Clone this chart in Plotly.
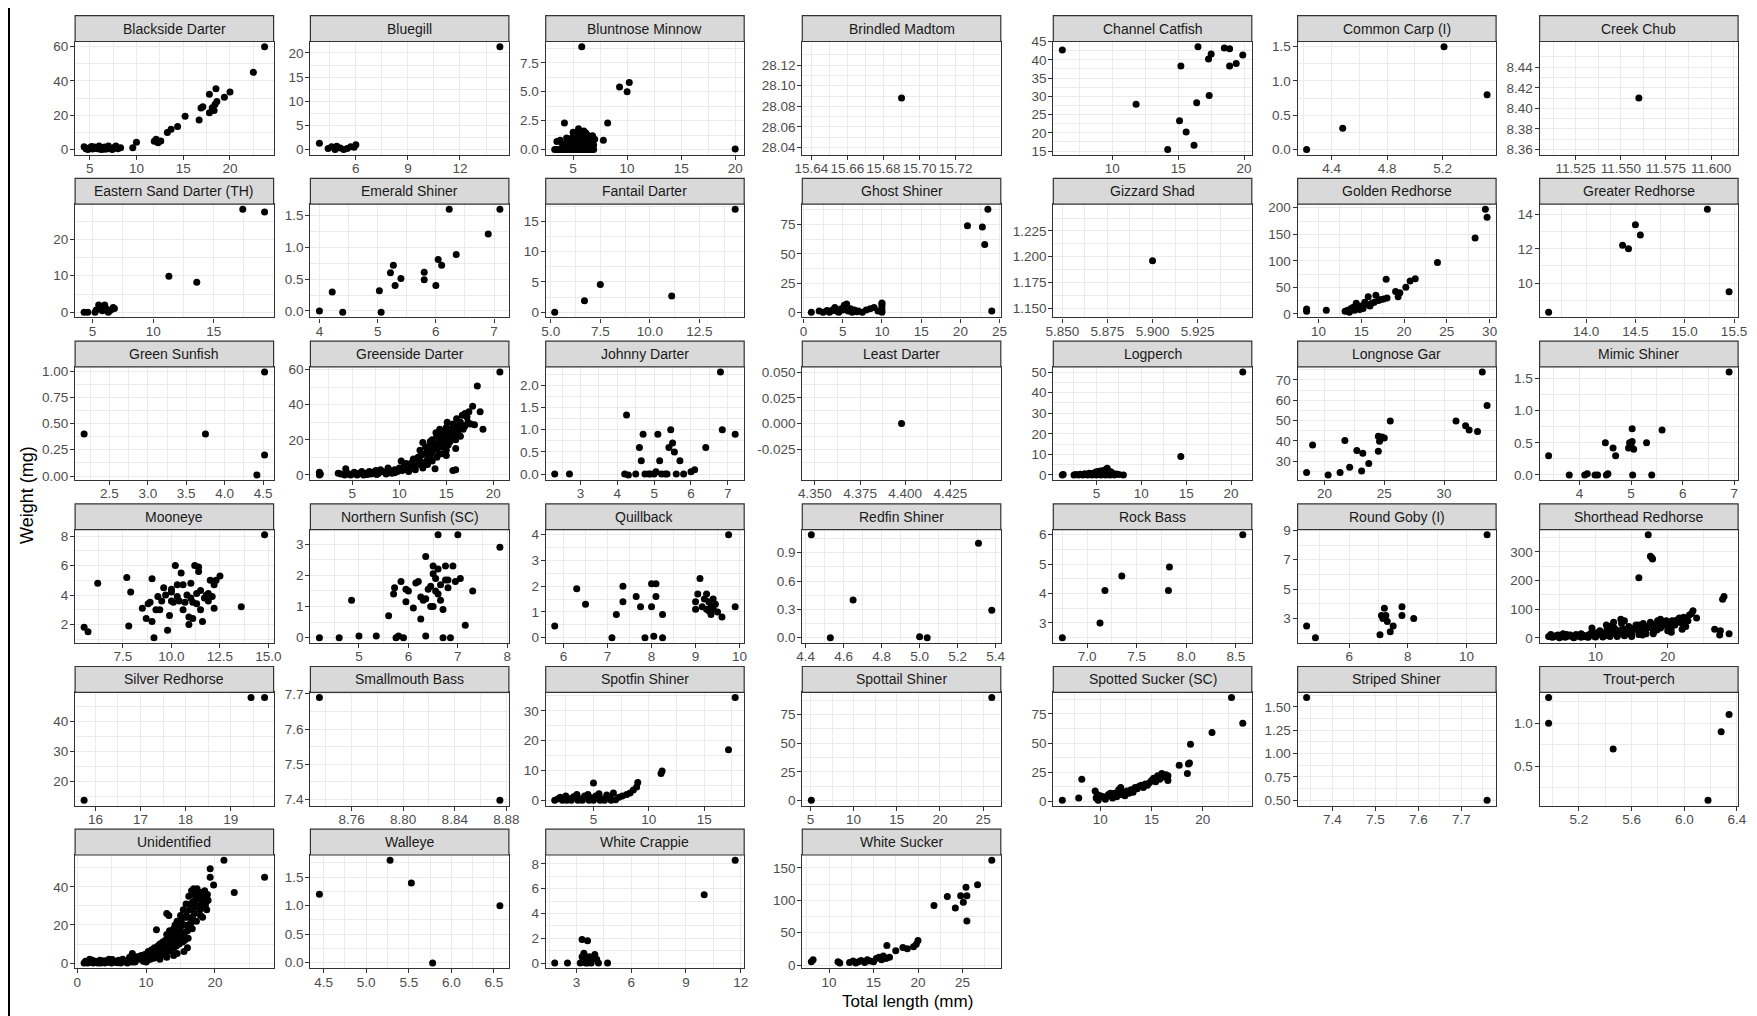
import plotly.graph_objects as go

# ---------------- data: (total length mm, weight mg) per species ----------------
blackside_darter = [(4.4,1.7),(4.6,0.5),(4.8,0.0),(5.0,1.0),(5.3,0.3),(5.5,1.5),(5.8,0.5),(6.0,2.0),(6.2,0.0),(6.4,1.0),(6.6,1.5),(6.8,0.3),(7.0,2.0),(7.2,0.8),(7.4,0.0),(7.6,1.2),(7.8,2.0),(8.0,0.5),(6.5,0.2),(5.2,1.8),(8.3,1.0),
                    (9.6,1.0),(10.0,4.2),(11.9,4.8),(12.1,6.0),(12.3,4.0),(12.6,5.0),(13.3,10.0),(13.7,11.8),(14.4,13.5),(15.2,19.4),(16.7,17.3),(16.9,24.2),(17.1,25.0),(17.8,21.5),(17.8,32.2),(18.1,24.4),(18.4,26.3),(18.5,35.4),(18.6,28.0),(18.3,22.7),(19.4,30.5),(20.0,33.5),(22.5,45.0),(23.7,60.0)]
bluegill = [(3.9,1.3),(4.4,0.2),(4.6,0.6),(4.8,0.0),(4.9,0.7),(5.1,0.3),(5.3,0.0),(5.5,0.2),(5.7,0.6),(5.9,0.5),(6.0,1.0),(14.3,21.3)]
bluntnose_minnow = [(3.3,0.0),(3.5,0.0),(3.7,0.0),(3.9,0.0),(4.1,0.0),(4.3,0.0),(4.5,0.0),(4.7,0.0),(4.9,0.0),(5.1,0.0),(5.3,0.0),(5.5,0.0),(5.7,0.0),(5.9,0.0),(6.1,0.0),(6.3,0.0),(6.5,0.0),(6.7,0.0),(6.9,0.0),
                    (3.5,0.7),(3.8,0.8),(4.0,0.5),(4.2,2.3),(4.3,0.3),(4.5,0.6),(4.6,0.9),(4.8,0.4),(4.9,1.0),(5.0,0.7),(5.1,1.2),(5.2,0.5),(5.3,1.4),(5.4,0.9),(5.5,1.8),(5.5,0.3),(5.6,1.1),(5.7,1.5),(5.8,0.6),(5.8,1.3),(5.9,0.9),(6.0,1.6),(6.0,0.4),(6.1,1.0),(6.2,1.4),(6.3,0.7),(6.4,1.2),(6.5,0.5),(6.6,1.0),(6.7,0.8),(6.8,1.2),(6.9,0.4),(7.0,0.9),(5.2,0.2),(4.7,0.2),(6.2,0.2),(5.0,1.5),(5.6,0.6),(4.4,1.0),(6.8,0.2),
                    (7.8,0.8),(8.2,2.3),(5.8,8.9),(9.3,5.4),(10.0,5.0),(10.2,5.8),(20.0,0.05)]
brindled_madtom = [(15.69,28.088)]
channel_catfish = [(6.2,42.7),(11.8,27.8),(14.2,15.4),(15.1,23.3),(15.2,38.3),(15.6,20.2),(16.2,16.6),(16.4,28.2),(16.5,43.6),(17.3,40.2),(17.35,30.2),(17.5,41.6),(18.5,43.2),(18.9,43.0),(18.9,38.3),(19.4,39.0),(19.9,41.3)]
common_carp = [(4.22,0.0),(4.48,0.31),(5.21,1.5),(5.52,0.8)]
creek_chub = [(11.56,8.41)]
eastern_sand_darter = [(4.3,0.0),(4.6,0.0),(5.2,0.0),(5.3,0.6),(5.5,2.0),(5.6,1.0),(5.8,0.4),(6.0,2.0),(6.1,1.0),(6.3,0.0),(6.5,0.6),(6.7,1.3),(6.8,1.0),(11.3,9.9),(13.6,8.2),(17.4,28.2),(19.2,27.5)]
emerald_shiner = [(4.0,0.0),(4.22,0.3),(4.4,-0.02),(5.03,0.32),(5.06,-0.02),(5.22,0.6),(5.27,0.72),(5.3,0.4),(5.4,0.51),(5.8,0.61),(5.8,0.49),(6.0,0.4),(6.04,0.81),(6.1,0.72),(6.23,1.6),(6.35,0.89),(6.9,1.21),(7.1,1.6)]
fantail_darter = [(5.2,0.0),(6.7,1.9),(7.5,4.6),(11.1,2.7),(14.3,17.0)]
ghost_shiner = [(1.0,0.0),(2.0,1.0),(2.5,0.0),(3.0,1.5),(3.3,0.0),(3.7,2.0),(4.0,4.0),(4.2,1.0),(4.5,0.0),(4.8,3.0),(5.0,2.0),(5.2,6.0),(5.5,7.0),(5.7,1.0),(6.0,3.0),(6.2,0.0),(6.5,2.0),(7.0,1.0),(7.5,0.0),(8.0,2.0),(8.5,3.0),(9.0,4.0),(10.0,2.0),(10.0,5.0),(10.0,7.0),(10.0,8.0),(10.0,0.0),(9.5,1.0),(3.5,1.0),(6.8,0.5),
                (20.9,74.0),(22.8,73.0),(23.1,58.0),(23.5,88.0),(24.0,1.0)]
gizzard_shad = [(5.90,1.196)]
golden_redhorse = [(8.6,5.0),(8.6,9.0),(10.9,7.0),(13.1,5.0),(13.4,7.0),(13.6,3.0),(13.8,10.0),(14.0,12.0),(14.2,7.0),(14.4,20.0),(14.6,13.0),(14.8,8.0),(15.0,15.0),(15.2,10.0),(15.4,22.0),(15.6,18.0),(15.8,32.0),(16.0,15.0),(16.2,20.0),(16.5,22.0),(16.7,35.0),(17.0,25.0),(17.3,27.0),(17.6,28.0),(17.9,65.0),(18.0,30.0),(19.0,42.0),(19.3,32.0),(19.5,40.0),(20.2,50.0),(20.7,62.0),(21.3,66.0),(23.9,97.0),(28.3,143.0),(29.5,197.0),(29.7,182.0)]
greater_redhorse = [(13.62,8.3),(14.37,12.2),(14.43,12.0),(14.5,13.4),(14.55,12.8),(15.23,14.3),(15.45,9.5)]
green_sunfish = [(2.17,0.4),(3.75,0.4),(4.42,0.01),(4.52,0.2),(4.52,0.99)]
greenside_darter = [(1.5,0.0),(1.5,1.5),(1.6,0.5),(3.5,1.0),(3.8,0.5),(4.2,0.0),(4.3,3.5),(4.5,1.0),(4.8,0.0),(5.0,0.5),(5.2,1.5),(5.5,0.0),(5.8,1.0),(6.0,2.0),(6.2,0.0),(6.5,1.0),(6.8,2.0),(7.0,0.5),(7.2,1.5),(7.5,2.5),(7.8,1.0),(8.0,3.0),(8.2,2.0),(8.5,1.5),(8.8,4.0),(9.0,2.5),(9.2,1.0),(9.5,3.0),(9.8,2.0),(10.0,4.0),(10.2,8.0),(10.3,2.5),(10.5,5.0),(10.8,3.0),(11.0,6.0),(11.0,4.0),(11.3,7.0),(11.5,5.0),(11.7,3.0),(11.8,9.0),(12.0,6.0),(12.2,8.0),(12.3,11.0),(12.5,18.5),(12.6,7.0),(12.8,12.0),(13.0,9.0),(13.0,14.0),(13.2,16.0),(13.3,11.0),(13.5,13.0),(13.5,20.0),(13.7,17.0),(13.8,3.5),(14.0,15.0),(14.0,22.0),(14.2,12.0),(14.2,19.0),(14.4,23.0),(14.5,16.0),(14.6,21.0),(14.8,18.0),(14.8,25.0),(15.0,14.0),(15.0,20.0),(15.0,27.0),(15.2,17.0),(15.3,23.0),(15.4,19.0),(15.5,26.0),(15.6,21.0),(15.7,2.5),(15.8,25.0),(16.0,3.0),(16.0,20.0),(16.0,28.0),(16.2,24.0),(16.3,27.0),(16.5,22.0),(16.5,30.0),(16.8,26.0),(17.0,35.0),(17.2,33.0),(17.3,30.0),(17.6,29.0),(17.8,39.0),(18.0,28.5),(18.3,50.5),(18.6,36.0),(18.9,26.0),(20.7,58.5),(12.0,10.0),(11.0,2.0),(12.5,4.0),(13.0,6.0),(14.0,10.0),(15.0,11.0),(16.0,15.0),
                    (12.2,14.0),(12.8,16.0),(13.3,19.0),(13.6,15.0),(13.9,24.0),(14.1,18.0),(14.3,26.0),(14.6,19.0),(14.9,22.0),(15.1,30.0),(15.3,26.0),(15.5,22.0),(15.7,29.0),(15.9,23.0),(16.1,32.0),(16.4,26.0),(16.7,34.0),(17.0,28.0),(17.4,36.0),(12.8,6.0),(13.5,8.0),(14.5,12.0),(11.5,9.0),(10.7,6.5),(9.5,1.2),(8.6,0.5),(7.6,0.3),(6.6,0.2),(5.6,0.5)]
johnny_darter = [(2.3,0.0),(2.7,0.0),(4.2,0.0),(4.25,1.33),(4.3,-0.02),(4.5,0.0),(4.6,0.6),(4.65,0.3),(4.7,0.9),(4.75,0.0),(4.85,0.0),(4.9,0.0),(5.0,0.0),(5.05,0.05),(5.1,0.9),(5.15,0.3),(5.2,0.0),(5.3,0.0),(5.35,0.0),(5.4,0.6),(5.45,1.0),(5.5,0.7),(5.55,0.5),(5.6,0.0),(5.7,0.3),(5.8,0.0),(6.0,0.05),(6.1,0.1),(6.4,0.6),(6.8,2.3),(6.85,1.0),(7.2,0.9)]
least_darter = [(4.398,0.0)]
logperch = [(1.2,0.0),(1.3,0.2),(2.5,0.0),(2.7,0.2),(3.0,0.0),(3.2,0.4),(3.5,0.0),(3.7,0.6),(4.0,0.0),(4.2,0.8),(4.5,0.0),(4.7,1.0),(5.0,0.0),(5.0,1.5),(5.3,1.8),(5.5,0.0),(5.6,2.0),(5.8,1.0),(6.0,0.0),(6.0,2.5),(6.2,3.2),(6.3,2.0),(6.5,0.0),(6.6,1.5),(6.8,0.8),(7.0,0.0),(7.2,0.5),(7.5,0.2),(8.0,0.0),(4.5,0.5),(5.5,1.2),(14.4,9.0),(21.3,50.0)]
longnose_gar = [(18.5,24.4),(19.0,37.9),(20.3,23.2),(21.3,24.4),(21.7,40.2),(22.1,27.0),(22.7,35.3),(23.2,33.9),(23.1,25.1),(23.7,28.8),(24.5,34.9),(24.5,42.3),(24.6,39.8),(24.8,41.9),(25.0,41.4),(25.5,49.8),(31.0,49.8),(31.8,47.5),(32.1,45.3),(32.8,44.6),(33.2,73.9),(33.6,57.4)]
mimic_shiner = [(3.4,0.3),(3.8,0.0),(4.1,0.0),(4.15,0.02),(4.3,0.0),(4.35,0.0),(4.5,0.5),(4.52,0.0),(4.55,0.02),(4.65,0.42),(4.7,0.3),(4.95,0.42),(4.97,0.5),(5.0,0.45),(5.02,0.52),(5.02,0.72),(5.03,0.0),(5.05,0.4),(5.3,0.5),(5.4,0.0),(5.6,0.7),(6.9,1.6)]
mooneye = [(5.5,1.8),(5.7,1.5),(6.2,4.8),(7.7,5.2),(7.8,1.9),(7.9,4.2),(8.5,3.1),(8.7,2.4),(8.8,3.4),(8.9,3.5),(9.0,5.1),(9.0,2.2),(9.1,1.1),(9.2,3.0),(9.3,3.9),(9.4,3.0),(9.5,3.6),(9.7,4.0),(9.8,1.6),(9.9,2.6),(10.0,4.4),(10.0,4.2),(10.1,3.5),(10.2,6.0),(10.3,4.7),(10.4,3.6),(10.5,5.5),(10.6,4.7),(10.7,3.5),(10.8,4.0),(10.9,2.5),(10.9,2.0),(11.0,3.8),(11.0,4.8),(11.1,3.5),(11.1,2.4),(11.2,6.0),(11.3,4.1),(11.3,3.4),(11.4,5.6),(11.4,5.9),(11.5,3.0),(11.5,4.3),(11.6,2.2),(11.7,3.8),(11.8,4.0),(11.9,4.1),(12.0,5.0),(12.1,3.9),(12.2,4.7),(12.2,3.1),(12.3,5.0),(12.5,5.3),(13.6,3.2),(14.8,8.1),(10.3,3.9),(10.6,3.0),(11.9,3.6),(10.0,3.6),(9.6,4.5)]
northern_sunfish = [(4.2,0.0),(4.6,0.0),(4.85,1.2),(5.0,0.05),(5.35,0.05),(5.6,0.7),(5.7,1.4),(5.72,1.6),(5.75,0.0),(5.8,0.05),(5.85,1.8),(5.9,0.0),(5.95,1.15),(5.95,1.55),(6.0,1.5),(6.1,0.95),(6.15,1.75),(6.2,1.8),(6.25,0.6),(6.25,1.3),(6.3,1.2),(6.35,0.05),(6.35,2.6),(6.35,1.25),(6.4,1.55),(6.45,1.0),(6.5,2.05),(6.5,2.3),(6.55,1.5),(6.55,1.9),(6.6,3.3),(6.6,1.4),(6.6,2.2),(6.65,1.2),(6.65,1.7),(6.7,0.0),(6.7,0.9),(6.75,2.3),(6.75,1.85),(6.8,1.85),(6.8,1.6),(6.85,0.0),(6.9,2.3),(6.95,1.8),(7.0,3.3),(7.05,1.9),(7.15,0.4),(7.3,1.5),(7.85,2.9),(6.45,1.65),(6.5,1.0)]
quillback = [(5.8,0.45),(6.3,1.9),(6.5,1.3),(7.1,0.0),(7.2,0.9),(7.35,2.0),(7.35,1.4),(7.65,1.6),(7.75,1.2),(7.85,0.0),(8.0,1.2),(8.0,2.1),(8.05,0.05),(8.1,2.1),(8.1,1.6),(8.25,0.0),(8.25,0.9),(9.0,1.4),(9.0,1.1),(9.05,1.7),(9.1,2.3),(9.15,1.2),(9.2,1.5),(9.25,1.7),(9.3,1.4),(9.3,1.05),(9.35,0.9),(9.4,1.5),(9.4,1.1),(9.45,1.3),(9.5,1.0),(9.6,0.8),(9.75,4.0),(9.9,1.2),(9.35,1.2),(9.25,1.1)]
redfin_shiner = [(4.43,1.09),(4.53,0.0),(4.65,0.4),(5.0,0.01),(5.04,0.0),(5.31,1.0),(5.38,0.29)]
rock_bass = [(6.75,2.5),(7.13,3.0),(7.18,4.1),(7.35,4.6),(7.82,4.1),(7.83,4.9),(8.57,6.0)]
round_goby = [(4.55,2.5),(4.85,1.7),(7.05,1.9),(7.1,3.2),(7.15,3.0),(7.2,3.7),(7.25,3.2),(7.3,2.8),(7.5,2.5),(7.4,2.1),(7.8,3.8),(7.8,3.2),(8.2,3.0),(10.7,8.7)]
shorthead_redhorse = [(3.5,5),(3.8,12),(4.0,2),(4.5,8),(5.0,3),(5.5,15),(6.0,5),(6.5,10),(7.0,2),(7.5,8),(8.0,15),(8.5,5),(9.0,10),(9.5,20),(10.0,8),(10.3,15),(10.6,25),(11.0,10),(11.3,18),(11.6,30),(12.0,12),(12.3,22),(12.6,35),(13.0,15),(13.3,25),(13.6,50),(14.0,20),(14.3,30),(14.6,40),(15.0,22),(15.3,32),(15.6,45),(16.0,25),(16.3,35),(16.6,50),(17.0,30),(17.3,40),(17.6,55),(18.0,32),(18.3,45),(18.6,60),(19.0,35),(19.3,48),(19.6,55),(20.0,40),(20.3,50),(20.6,60),(21.0,45),(21.3,55),(21.6,70),(22.0,50),(22.5,65),(23.0,80),(23.5,95),(24.0,70),(20.5,20),(15.0,5),(13.0,5),(11.0,3),(9.0,2),(7.0,1),(5.0,1),(12.0,40),(14.0,60),(16.0,45),(18.0,20),(19.0,65),(17.0,15),(15.0,12),(13.0,8),(16.5,10),(6.0,12),(8.0,2),(10.0,3),(12.0,5),(14.0,8),(16.0,12),(18.0,15),(20.0,25),(22.0,30),
                      (4.2,4),(4.8,10),(5.3,6),(5.8,2),(6.3,8),(6.8,4),(7.3,12),(7.8,5),(8.3,9),(8.8,3),(9.3,14),(9.8,6),(10.2,18),(10.8,12),(11.2,7),(11.8,20),(12.2,15),(12.8,28),(13.2,18),(13.8,30),(14.2,25),(14.8,35),(15.2,28),(15.8,38),(16.2,30),(16.8,42),(17.2,35),(17.8,48),(18.2,38),(18.8,52),(19.2,42),(19.8,60),(20.2,45),(20.8,55),(21.2,62),(21.8,58),(22.2,72),(22.8,60),(23.3,85),(11.5,45),(13.5,65),(12.5,55),(9.5,35),(14.5,15),(16.5,20),(18.5,28),(20.5,35),(22.5,40),
                      (17.3,360),(17.6,285),(17.8,280),(17.9,275),(16.0,210),(26.5,30),(27.2,10),(27.3,25),(27.6,135),(27.8,145),(28.5,15)]
silver_redhorse = [(15.75,13.8),(19.45,48.0),(19.75,48.0)]
smallmouth_bass = [(8.735,7.69),(8.875,7.397)]
spotfin_shiner = [(1.5,0.0),(1.8,0.5),(2.0,1.0),(2.2,0.0),(2.5,1.5),(2.8,0.5),(3.0,0.0),(3.2,1.2),(3.5,2.0),(3.8,0.5),(4.0,0.0),(4.2,1.5),(4.5,2.0),(4.8,0.8),(5.0,5.8),(5.0,0.0),(5.2,1.5),(5.5,2.2),(5.8,0.5),(6.0,0.0),(6.2,1.8),(6.5,1.0),(6.8,2.5),(7.0,0.2),(7.3,1.0),(7.6,1.5),(8.0,2.0),(8.3,2.5),(8.6,3.5),(8.9,4.5),(9.0,6.0),(2.6,0.0),(3.6,0.0),(4.6,0.0),(5.6,0.0),(6.6,0.0),(11.1,9.0),(11.2,9.8),(17.2,17.0),(17.8,34.5)]
spottail_shiner = [(5.1,0.05),(26.0,90.0)]
spotted_sucker = [(6.3,1),(7.9,3),(8.2,19),(9.5,9),(9.6,3),(9.7,6),(10.0,5),(10.3,4),(10.5,2),(10.8,6),(11.0,5),(11.2,3),(11.4,7),(11.6,4),(11.8,10),(12.0,6),(12.2,8),(12.4,5),(12.6,9),(12.8,7),(13.0,10),(13.2,8),(13.4,12),(13.6,11),(13.8,13),(14.0,14),(14.2,12),(14.4,15),(14.6,14),(14.8,16),(15.0,18),(15.2,20),(15.4,17),(15.6,22),(15.8,19),(16.0,24),(16.2,21),(16.4,23),(16.6,18),(16.6,22),(17.7,31),(18.5,24),(18.6,32),(18.7,33),(18.8,49),(20.9,59),(22.8,89),(23.9,67),(12.0,12),(11.0,7),(9.8,1)]
striped_shiner = [(7.34,1.6),(7.76,0.5)]
trout_perch = [(4.97,1.3),(4.97,1.0),(5.46,0.7),(6.18,0.1),(6.28,0.9),(6.34,1.1)]
unidentified = [(1.0,0.0),(1.2,1.0),(1.5,0.0),(1.8,2.0),(2.0,0.5),(2.3,0.0),(2.6,1.0),(3.0,0.0),(3.3,1.5),(3.6,0.5),(4.0,0.0),(4.3,1.0),(4.6,2.0),(5.0,0.0),(5.3,1.0),(5.6,0.5),(6.0,1.5),(6.3,0.0),(6.6,2.0),(7.0,1.0),(7.3,0.0),(7.6,3.0),(8.0,5.0),(8.3,1.5),(8.6,3.0),(9.0,2.0),(9.3,4.0),(9.6,1.0),(10.0,3.0),(10.3,6.0),(10.6,2.0),(11.0,5.0),(11.2,8.0),(11.5,17.5),(11.5,3.0),(11.8,6.0),(12.0,10.0),(12.2,4.0),(12.5,8.0),(12.8,12.0),(13.0,26.0),(13.0,15.0),(13.2,6.0),(13.3,25.0),(13.5,10.0),(13.8,14.0),(14.0,18.0),(14.0,8.0),(14.3,12.0),(14.5,22.0),(14.6,16.0),(14.8,10.0),(15.0,25.0),(15.0,19.0),(15.2,14.0),(15.4,28.0),(15.5,20.0),(15.6,12.0),(15.8,31.0),(16.0,24.0),(16.0,17.0),(16.2,35.0),(16.3,28.0),(16.5,21.0),(16.6,38.0),(16.8,32.0),(17.0,26.0),(17.0,36.0),(17.2,30.0),(17.4,39.0),(17.6,34.0),(17.8,28.0),(18.0,37.0),(18.0,31.0),(18.2,24.0),(18.4,35.0),(18.6,30.0),(18.8,28.0),(19.3,49.5),(19.3,45.0),(19.8,41.0),(21.3,54.0),(22.8,37.0),(27.2,45.0),(19.0,33.0),(14.0,4.0),(12.0,2.0),(16.0,8.0),(10.0,0.5),(8.0,0.5),
                (1.4,0.5),(2.2,1.5),(2.8,0.3),(3.4,0.0),(3.9,1.2),(4.5,0.4),(5.1,1.8),(5.8,0.2),(6.4,1.2),(7.1,0.4),(7.8,1.8),(8.4,0.6),(8.9,3.5),(9.4,2.5),(9.8,4.5),(10.2,1.5),(10.5,4.0),(10.8,7.0),(11.1,2.5),(11.4,6.0),(11.7,9.0),(12.1,7.0),(12.4,11.0),(12.7,5.0),(12.9,9.0),(13.1,13.0),(13.4,17.0),(13.6,7.0),(13.9,11.0),(14.1,15.0),(14.2,20.0),(14.4,9.0),(14.7,13.0),(14.9,17.0),(15.1,22.0),(15.3,11.0),(15.6,16.0),(15.7,24.0),(15.9,27.0),(16.1,13.0),(16.1,20.0),(16.4,31.0),(16.7,24.0),(16.7,18.0),(16.9,29.0),(17.1,33.0),(17.3,22.0),(17.5,36.0),(17.7,30.0),(17.9,25.0),(18.1,34.0),(18.3,29.0),(18.5,38.0),(18.7,32.0),(18.9,36.0),(16.9,39.0),(17.8,37.0),(15.5,6.0),(14.5,5.0),(13.0,3.0)]
walleye = [(4.45,1.2),(5.28,1.8),(5.53,1.4),(5.78,-0.01),(6.57,1.0)]
white_crappie = [(1.8,0.0),(2.5,0.0),(3.2,0.0),(3.3,1.9),(3.4,0.8),(3.5,0.3),(3.6,1.8),(3.7,0.5),(3.3,0.5),(3.5,0.0),(3.8,0.0),(4.0,0.7),(4.1,0.3),(4.2,0.0),(4.7,0.0),(3.9,0.4),(3.6,0.0),(10.0,5.5),(11.7,8.3)]
white_sucker = [(8.0,5),(8.2,8),(11.0,5),(11.2,3),(12.3,4),(12.7,6),(13.0,3),(13.3,5),(13.6,7),(14.0,4),(14.3,8),(14.6,6),(15.0,5),(15.3,10),(15.6,12),(15.9,8),(16.1,14),(16.4,10),(16.5,30),(16.8,12),(17.5,22),(18.3,27),(18.8,25),(19.5,28),(19.8,32),(20.0,38),(21.8,92),(23.3,106),(24.2,88),(24.8,107),(25.1,97),(25.4,120),(25.5,107),(25.5,68),(26.7,124),(28.3,162)]

# ---------------- tick labels per panel ----------------
blackside_darter_xt = ["5","10","15","20"];            blackside_darter_yt = ["0","20","40","60"]
bluegill_xt = ["6","9","12"];                           bluegill_yt = ["0","5","10","15","20"]
bluntnose_minnow_xt = ["5","10","15","20"];            bluntnose_minnow_yt = ["0.0","2.5","5.0","7.5"]
brindled_madtom_xt = ["15.64","15.66","15.68","15.70","15.72"]; brindled_madtom_yt = ["28.04","28.06","28.08","28.10","28.12"]
channel_catfish_xt = ["10","15","20"];                 channel_catfish_yt = ["15","20","25","30","35","40","45"]
common_carp_xt = ["4.4","4.8","5.2"];                  common_carp_yt = ["0.0","0.5","1.0","1.5"]
creek_chub_xt = ["11.525","11.550","11.575","11.600"]; creek_chub_yt = ["8.36","8.38","8.40","8.42","8.44"]
eastern_sand_darter_xt = ["5","10","15"];              eastern_sand_darter_yt = ["0","10","20"]
emerald_shiner_xt = ["4","5","6","7"];                 emerald_shiner_yt = ["0.0","0.5","1.0","1.5"]
fantail_darter_xt = ["5.0","7.5","10.0","12.5"];       fantail_darter_yt = ["0","5","10","15"]
ghost_shiner_xt = ["0","5","10","15","20","25"];       ghost_shiner_yt = ["0","25","50","75"]
gizzard_shad_xt = ["5.850","5.875","5.900","5.925"];   gizzard_shad_yt = ["1.150","1.175","1.200","1.225"]
golden_redhorse_xt = ["10","15","20","25","30"];       golden_redhorse_yt = ["0","50","100","150","200"]
greater_redhorse_xt = ["14.0","14.5","15.0","15.5"];   greater_redhorse_yt = ["10","12","14"]
green_sunfish_xt = ["2.5","3.0","3.5","4.0","4.5"];    green_sunfish_yt = ["0.00","0.25","0.50","0.75","1.00"]
greenside_darter_xt = ["5","10","15","20"];            greenside_darter_yt = ["0","20","40","60"]
johnny_darter_xt = ["3","4","5","6","7"];              johnny_darter_yt = ["0.0","0.5","1.0","1.5","2.0"]
least_darter_xt = ["4.350","4.375","4.400","4.425"];   least_darter_yt = ["-0.025","0.000","0.025","0.050"]
logperch_xt = ["5","10","15","20"];                    logperch_yt = ["0","10","20","30","40","50"]
longnose_gar_xt = ["20","25","30"];                    longnose_gar_yt = ["30","40","50","60","70"]
mimic_shiner_xt = ["4","5","6","7"];                   mimic_shiner_yt = ["0.0","0.5","1.0","1.5"]
mooneye_xt = ["7.5","10.0","12.5","15.0"];             mooneye_yt = ["2","4","6","8"]
northern_sunfish_xt = ["5","6","7","8"];               northern_sunfish_yt = ["0","1","2","3"]
quillback_xt = ["6","7","8","9","10"];                 quillback_yt = ["0","1","2","3","4"]
redfin_shiner_xt = ["4.4","4.6","4.8","5.0","5.2","5.4"]; redfin_shiner_yt = ["0.0","0.3","0.6","0.9"]
rock_bass_xt = ["7.0","7.5","8.0","8.5"];              rock_bass_yt = ["3","4","5","6"]
round_goby_xt = ["6","8","10"];                        round_goby_yt = ["3","5","7","9"]
shorthead_redhorse_xt = ["10","20"];                   shorthead_redhorse_yt = ["0","100","200","300"]
silver_redhorse_xt = ["16","17","18","19"];            silver_redhorse_yt = ["20","30","40"]
smallmouth_bass_xt = ["8.76","8.80","8.84","8.88"];    smallmouth_bass_yt = ["7.4","7.5","7.6","7.7"]
spotfin_shiner_xt = ["5","10","15"];                   spotfin_shiner_yt = ["0","10","20","30"]
spottail_shiner_xt = ["5","10","15","20","25"];        spottail_shiner_yt = ["0","25","50","75"]
spotted_sucker_xt = ["10","15","20"];                  spotted_sucker_yt = ["0","25","50","75"]
striped_shiner_xt = ["7.4","7.5","7.6","7.7"];         striped_shiner_yt = ["0.50","0.75","1.00","1.25","1.50"]
trout_perch_xt = ["5.2","5.6","6.0","6.4"];            trout_perch_yt = ["0.5","1.0"]
unidentified_xt = ["0","10","20"];                     unidentified_yt = ["0","20","40"]
walleye_xt = ["4.5","5.0","5.5","6.0","6.5"];          walleye_yt = ["0.0","0.5","1.0","1.5"]
white_crappie_xt = ["3","6","9","12"];                 white_crappie_yt = ["0","2","4","6","8"]
white_sucker_xt = ["10","15","20","25"];               white_sucker_yt = ["0","50","100","150"]

species_names = ["Blackside Darter","Bluegill","Bluntnose Minnow","Brindled Madtom","Channel Catfish","Common Carp (I)","Creek Chub",
                 "Eastern Sand Darter (TH)","Emerald Shiner","Fantail Darter","Ghost Shiner","Gizzard Shad","Golden Redhorse","Greater Redhorse",
                 "Green Sunfish","Greenside Darter","Johnny Darter","Least Darter","Logperch","Longnose Gar","Mimic Shiner",
                 "Mooneye","Northern Sunfish (SC)","Quillback","Redfin Shiner","Rock Bass","Round Goby (I)","Shorthead Redhorse",
                 "Silver Redhorse","Smallmouth Bass","Spotfin Shiner","Spottail Shiner","Spotted Sucker (SC)","Striped Shiner","Trout-perch",
                 "Unidentified","Walleye","White Crappie","White Sucker"]

panels = [
    (blackside_darter, blackside_darter_xt, blackside_darter_yt),
    (bluegill, bluegill_xt, bluegill_yt),
    (bluntnose_minnow, bluntnose_minnow_xt, bluntnose_minnow_yt),
    (brindled_madtom, brindled_madtom_xt, brindled_madtom_yt),
    (channel_catfish, channel_catfish_xt, channel_catfish_yt),
    (common_carp, common_carp_xt, common_carp_yt),
    (creek_chub, creek_chub_xt, creek_chub_yt),
    (eastern_sand_darter, eastern_sand_darter_xt, eastern_sand_darter_yt),
    (emerald_shiner, emerald_shiner_xt, emerald_shiner_yt),
    (fantail_darter, fantail_darter_xt, fantail_darter_yt),
    (ghost_shiner, ghost_shiner_xt, ghost_shiner_yt),
    (gizzard_shad, gizzard_shad_xt, gizzard_shad_yt),
    (golden_redhorse, golden_redhorse_xt, golden_redhorse_yt),
    (greater_redhorse, greater_redhorse_xt, greater_redhorse_yt),
    (green_sunfish, green_sunfish_xt, green_sunfish_yt),
    (greenside_darter, greenside_darter_xt, greenside_darter_yt),
    (johnny_darter, johnny_darter_xt, johnny_darter_yt),
    (least_darter, least_darter_xt, least_darter_yt),
    (logperch, logperch_xt, logperch_yt),
    (longnose_gar, longnose_gar_xt, longnose_gar_yt),
    (mimic_shiner, mimic_shiner_xt, mimic_shiner_yt),
    (mooneye, mooneye_xt, mooneye_yt),
    (northern_sunfish, northern_sunfish_xt, northern_sunfish_yt),
    (quillback, quillback_xt, quillback_yt),
    (redfin_shiner, redfin_shiner_xt, redfin_shiner_yt),
    (rock_bass, rock_bass_xt, rock_bass_yt),
    (round_goby, round_goby_xt, round_goby_yt),
    (shorthead_redhorse, shorthead_redhorse_xt, shorthead_redhorse_yt),
    (silver_redhorse, silver_redhorse_xt, silver_redhorse_yt),
    (smallmouth_bass, smallmouth_bass_xt, smallmouth_bass_yt),
    (spotfin_shiner, spotfin_shiner_xt, spotfin_shiner_yt),
    (spottail_shiner, spottail_shiner_xt, spottail_shiner_yt),
    (spotted_sucker, spotted_sucker_xt, spotted_sucker_yt),
    (striped_shiner, striped_shiner_xt, striped_shiner_yt),
    (trout_perch, trout_perch_xt, trout_perch_yt),
    (unidentified, unidentified_xt, unidentified_yt),
    (walleye, walleye_xt, walleye_yt),
    (white_crappie, white_crappie_xt, white_crappie_yt),
    (white_sucker, white_sucker_xt, white_sucker_yt),
]

# ---------------- layout geometry (pixels in the photographed page) ----------------
W, H = 1757, 1016
OFF = 8.0   # page body margin: the figure is drawn 8 px right / down of the page corner
COL_LEFT = [75.1, 310.4, 545.7, 802.3, 1053.3, 1297.6, 1539.6]
PANEL_W = 198.5
STRIP_TOP0 = 15.7
ROW_PITCH = 162.7
STRIP_H = 25.8
PANEL_H = 113.2

FONT = "Liberation Sans, Arial, sans-serif"
TICK_COLOR = "#4D4D4D"
BORDER = "#333333"
GRID = "#EBEBEB"


def fx(p):
    return (p - OFF) / W


def fy(p):
    return 1 - (p - OFF) / H


def data_range(v):
    lo, hi = min(v), max(v)
    d = hi - lo
    if d == 0:
        return [lo - 0.055, hi + 0.055]
    return [lo - 0.05 * d, hi + 0.05 * d]


def minor_vals(ticks, rng):
    step = ticks[1] - ticks[0]
    cand = [ticks[0] - step / 2] + [t + step / 2 for t in ticks]
    return [m for m in cand if rng[0] <= m <= rng[1]]


fig = go.Figure()
layout = dict(
    width=W, height=H, margin=dict(l=0, r=0, t=0, b=0, autoexpand=False),
    paper_bgcolor="white", plot_bgcolor="white", showlegend=False,
    font=dict(family=FONT, color=TICK_COLOR),
)
shapes, annotations = [], []

for i, (name, (pts, xt, yt)) in enumerate(zip(species_names, panels)):
    r, c = divmod(i, 7)
    k = i + 1
    sfx = "" if k == 1 else str(k)
    xs = [p[0] for p in pts]
    ys = [p[1] for p in pts]
    fig.add_trace(go.Scatter(
        x=xs, y=ys, mode="markers",
        marker=dict(color="black", size=7, line=dict(width=0)),
        xaxis="x" + sfx, yaxis="y" + sfx, hoverinfo="skip", cliponaxis=True,
    ))
    left = COL_LEFT[c]
    strip_top = STRIP_TOP0 + r * ROW_PITCH
    ptop = strip_top + STRIP_H
    pbot = ptop + PANEL_H
    xr, yr = data_range(xs), data_range(ys)
    xv = [float(t) for t in xt]
    yv = [float(t) for t in yt]
    common = dict(
        tickmode="array", ticks="outside", ticklen=4, tickwidth=1.1, tickcolor=BORDER,
        tickfont=dict(family=FONT, size=13.5, color=TICK_COLOR), tickangle=0, automargin=False,
        showgrid=True, gridcolor=GRID, gridwidth=1.4, zeroline=False,
        showline=True, mirror=True, linecolor=BORDER, linewidth=1.2,
        fixedrange=True,
    )
    layout["xaxis" + sfx] = dict(
        common, domain=[fx(left), fx(left + PANEL_W)], anchor="y" + sfx, range=xr,
        tickvals=xv, ticktext=xt, ticklabelstandoff=-3,
        minor=dict(tickmode="array", tickvals=minor_vals(xv, xr), showgrid=True, gridcolor=GRID, gridwidth=0.7, ticks=""),
    )
    layout["yaxis" + sfx] = dict(
        common, domain=[fy(pbot), fy(ptop)], anchor="x" + sfx, range=yr,
        tickvals=yv, ticktext=yt, ticklabelstandoff=-1,
        minor=dict(tickmode="array", tickvals=minor_vals(yv, yr), showgrid=True, gridcolor=GRID, gridwidth=0.7, ticks=""),
    )
    # facet strip
    shapes.append(dict(type="rect", xref="paper", yref="paper",
                       x0=fx(left), x1=fx(left + PANEL_W),
                       y0=fy(ptop), y1=fy(strip_top),
                       fillcolor="#D9D9D9", line=dict(color=BORDER, width=1.2), layer="above"))
    annotations.append(dict(text=name, xref="paper", yref="paper",
                            x=fx(left + PANEL_W / 2), y=fy(strip_top + STRIP_H / 2),
                            xanchor="center", yanchor="middle", showarrow=False,
                            font=dict(family=FONT, size=14, color="#1A1A1A")))

# axis titles
annotations.append(dict(text="Total length (mm)", xref="paper", yref="paper",
                        x=fx(907), y=fy(1001), xanchor="center", yanchor="middle",
                        showarrow=False, font=dict(family=FONT, size=17, color="black")))
annotations.append(dict(text="Weight (mg)", xref="paper", yref="paper",
                        x=fx(27), y=fy(495), xanchor="center", yanchor="middle", textangle=-90,
                        showarrow=False, font=dict(family=FONT, size=18, color="black")))

# outer frame lines of the image
shapes.append(dict(type="line", xref="paper", yref="paper", x0=fx(9), x1=fx(9), y0=0, y1=1,
                   line=dict(color="black", width=2)))
shapes.append(dict(type="line", xref="paper", yref="paper", x0=fx(1750), x1=fx(1750), y0=0, y1=1,
                   line=dict(color="black", width=2)))

layout["shapes"] = shapes
layout["annotations"] = annotations
fig.update_layout(**layout)
fig.write_html("out.html")
